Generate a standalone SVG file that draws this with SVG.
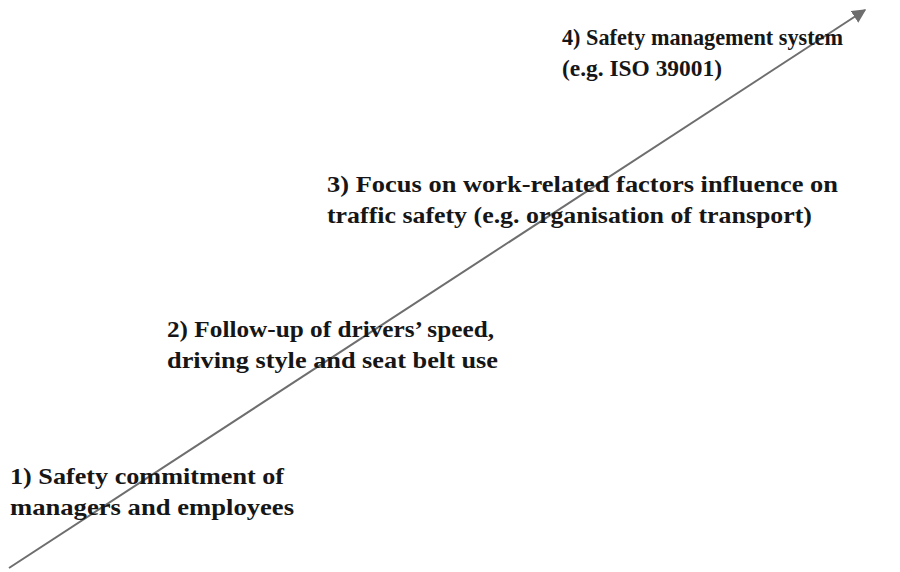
<svg xmlns="http://www.w3.org/2000/svg" width="900" height="572" viewBox="0 0 900 572">
<style>
.t{font-family:"Liberation Serif","Times New Roman",serif;font-weight:bold;font-size:24px;fill:#161616}
.c{stroke:#6e6e6e;stroke-width:2;fill:none}
</style>
<defs>
<marker id="ah" viewBox="0 0 10 10" refX="9" refY="5" markerWidth="7" markerHeight="7" orient="auto" markerUnits="strokeWidth">
<path d="M0,0 L10,5 L0,10 z" fill="#6e6e6e"/>
</marker>
</defs>
<rect width="900" height="572" fill="#ffffff"/>
<g id="connectors">
<line class="c" x1="9" y1="568" x2="865" y2="10" marker-end="url(#ah)"/>
</g>
<g id="step1">
<text class="t" x="10" y="484" textLength="274" lengthAdjust="spacingAndGlyphs">1) Safety commitment of</text>
<text class="t" x="10" y="515" textLength="284" lengthAdjust="spacingAndGlyphs">managers and employees</text>
</g>
<g id="step2">
<text class="t" x="167" y="337" textLength="327" lengthAdjust="spacingAndGlyphs">2) Follow-up of drivers’ speed,</text>
<text class="t" x="167" y="368" textLength="331" lengthAdjust="spacingAndGlyphs">driving style and seat belt use</text>
</g>
<g id="step3">
<text class="t" x="327" y="192" textLength="511" lengthAdjust="spacingAndGlyphs">3) Focus on work-related factors influence on</text>
<text class="t" x="327" y="223" textLength="485" lengthAdjust="spacingAndGlyphs">traffic safety (e.g. organisation of transport)</text>
</g>
<g id="step4">
<text class="t" x="562" y="45" textLength="281" lengthAdjust="spacingAndGlyphs">4) Safety management system</text>
<text class="t" x="562" y="76" textLength="160" lengthAdjust="spacingAndGlyphs">(e.g. ISO 39001)</text>
</g>
</svg>
